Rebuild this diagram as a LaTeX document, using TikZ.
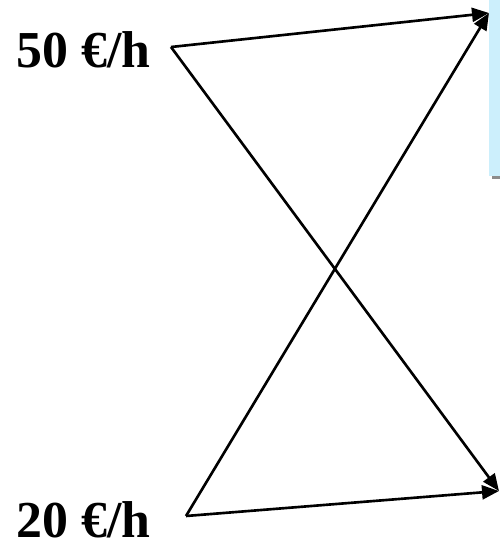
\documentclass[tikz,border=0pt]{standalone}
\usepackage{fontspec}
\setmainfont{Liberation Serif}
\usepackage{xcolor}
\usetikzlibrary{arrows.meta,shadows}

\begin{document}
\begin{tikzpicture}[x=0.02cm,y=-0.02cm,>={Triangle[length=0.34cm,width=0.28cm]},
  rate/.style={anchor=base west,inner sep=0pt,font=\fontsize{29.5}{30}\selectfont\bfseries},
  link/.style={->,line width=1.5pt,line join=miter},
  panel/.style={fill=cyan!20,draw=none,anchor=north west,minimum width=0.4cm,minimum height=3.62cm,inner sep=0pt,
    general shadow={fill=gray!90,shadow xshift=0.06cm,shadow yshift=-0.06cm}}]
\useasboundingbox (0,0) rectangle (500,549);
\node[panel] (box) at (489,-5) {};
\node[rate] (high) at (16,67) {50 €/h};
\node[rate] (low) at (16,537) {20 €/h};
\coordinate (vhigh) at (171,47);
\coordinate (vlow) at (186,516);
\coordinate (top) at (489,13);
\coordinate (bottom) at (499,491);
\draw[link] (vhigh) -- (top);
\draw[link] (vhigh) -- (bottom);
\draw[link] (vlow) -- (top);
\draw[link] (vlow) -- (bottom);
\end{tikzpicture}
\end{document}
